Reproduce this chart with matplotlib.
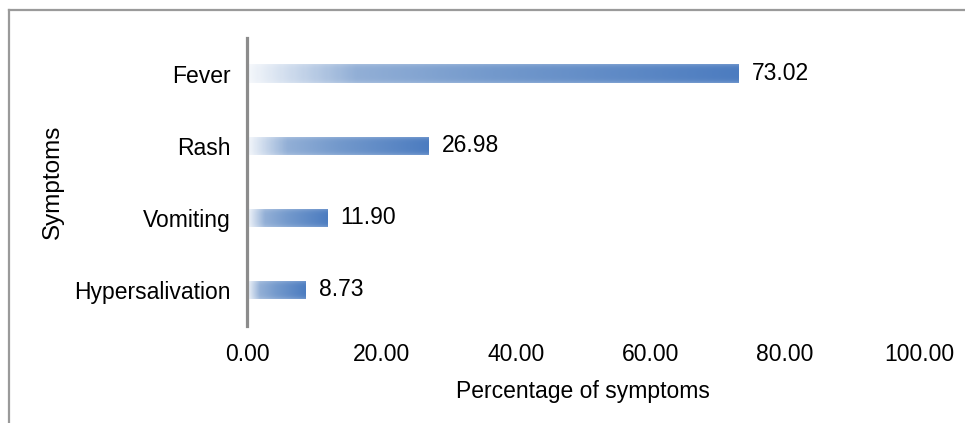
import numpy as np
import matplotlib
matplotlib.use("Agg")
import matplotlib.pyplot as plt
from matplotlib.colors import LinearSegmentedColormap
from matplotlib.lines import Line2D

plt.rcParams['font.family'] = ['Liberation Sans', 'DejaVu Sans']

symptoms = ["Fever", "Rash", "Vomiting", "Hypersalivation"]
percentages = [73.02, 26.98, 11.90, 8.73]
x_ticks = [0, 20, 40, 60, 80, 100]

FS = 16.5

fig = plt.figure(figsize=(9.65, 4.23), dpi=100)
ax = fig.add_axes([247 / 965, 1 - 326 / 423, 672.5 / 965, 288 / 423])

# horizontal fade from pale to blue, with soft top/bottom edges
cmap = LinearSegmentedColormap.from_list(
    "bar", [(0.0, "#f4f7fb"), (0.22, "#92afd6"), (0.5, "#7399cc"), (1.0, "#4c7cc0")])
bar_h = 0.25
ypos = np.arange(len(symptoms))[::-1]
for y, v in zip(ypos, percentages):
    nx, ny = 300, 20
    t = np.linspace(0, 1, nx)
    rgba = cmap(t)[None, :, :].repeat(ny, axis=0)
    vert = np.linspace(-1, 1, ny)[:, None]
    shade = 0.18 * vert ** 4
    rgba[..., :3] = rgba[..., :3] + (1 - rgba[..., :3]) * shade[..., None]
    ax.imshow(rgba, extent=[0, v, y - bar_h / 2, y + bar_h / 2],
              aspect='auto', interpolation='bilinear', zorder=2)
    ax.text(v + 2.0, y, f"{v:.2f}", va='center', ha='left', fontsize=FS)

ax.set_xlim(0, 100)
ax.set_ylim(-0.5, 3.5)
ax.set_yticks(ypos)
ax.set_yticklabels(symptoms, fontsize=FS)
ax.set_xticks(x_ticks)
ax.set_xticklabels([f"{v:.2f}" for v in x_ticks], fontsize=FS)
ax.tick_params(axis='both', length=0)
ax.tick_params(axis='y', pad=12)
ax.tick_params(axis='x', pad=12)
for s in ["top", "right", "bottom"]:
    ax.spines[s].set_visible(False)
ax.spines["left"].set_color("#8c8c8c")
ax.spines["left"].set_linewidth(2.3)
ax.set_xlabel("Percentage of symptoms", fontsize=FS, labelpad=10)
ax.set_ylabel("Symptoms", fontsize=17.5, labelpad=7)

# chart area border (top and left edges)
fig.add_artist(Line2D([8.5 / 965, 1.0], [1 - 10.5 / 423, 1 - 10.5 / 423],
                      transform=fig.transFigure, color="#9a9a9a", lw=1.6))
fig.add_artist(Line2D([8.5 / 965, 8.5 / 965], [1 - 10.5 / 423, 0.0],
                      transform=fig.transFigure, color="#9a9a9a", lw=1.6))

fig.savefig("out.png", dpi=100)
